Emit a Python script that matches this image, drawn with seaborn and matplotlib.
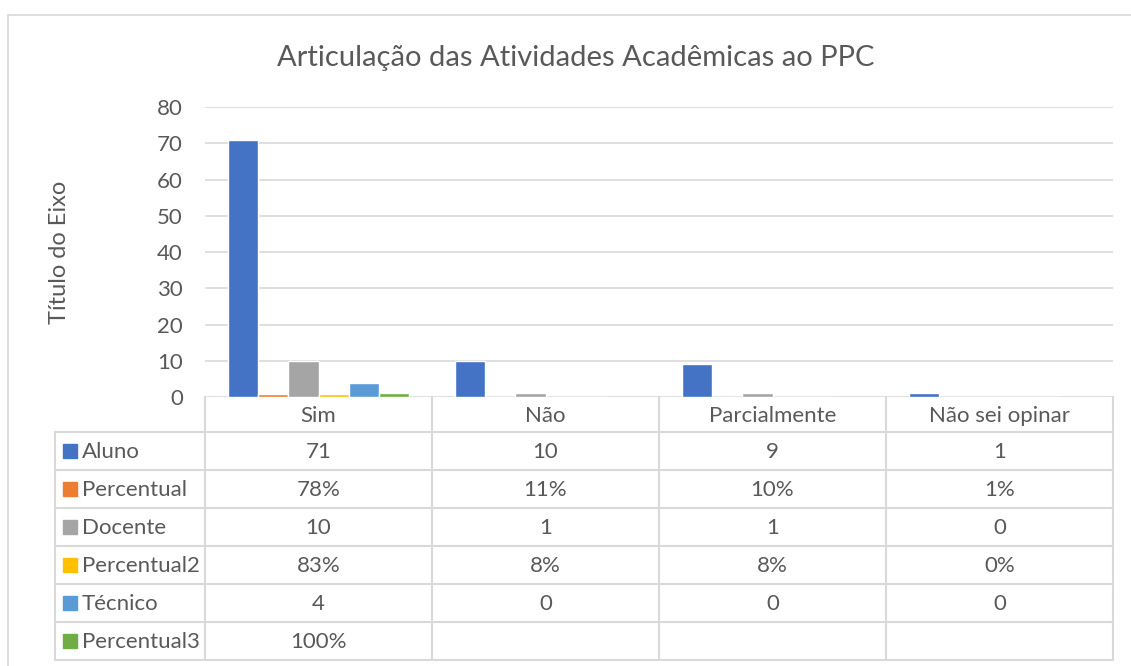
import matplotlib.pyplot as plt
import pandas as pd
import seaborn as sns

categorias = ['Sim', 'Não', 'Parcialmente', 'Não sei opinar']
series = ['Aluno', 'Percentual', 'Docente', 'Percentual2', 'Técnico', 'Percentual3']
aluno = [71, 10, 9, 1]
percentual = [0.78, 0.11, 0.10, 0.01]
docente = [10, 1, 1, 0]
percentual2 = [0.83, 0.08, 0.08, 0.00]
tecnico = [4, 0, 0, 0]
percentual3 = [1.00, None, None, None]
eh_percentual = [False, True, False, True, False, True]
cores = ['#4472C4', '#ED7D31', '#A5A5A5', '#FFC000', '#5B9BD5', '#70AD47']
valores = [aluno, percentual, docente, percentual2, tecnico, percentual3]

TXT = '#595959'
GRID = '#D9D9D9'
W, H = 1131, 666
FS = 16

linhas = []
for nome, vals in zip(series, valores):
    for cat, v in zip(categorias, vals):
        linhas.append({'categoria': cat, 'serie': nome, 'valor': v})
df = pd.DataFrame(linhas)

sns.set_style('white')
plt.rcParams['font.family'] = ['Lato', 'DejaVu Sans']

fig = plt.figure(figsize=(W / 100, H / 100), dpi=100)
ax = fig.add_axes([205 / W, 1 - 397 / H, (1113 - 205) / W, (397 - 107) / H])
sns.barplot(data=df, x='categoria', y='valor', hue='serie', order=categorias,
            hue_order=series, palette=cores, width=0.8, saturation=1,
            legend=False, ax=ax, zorder=3)
ax.set_ylim(0, 80)
ax.set_yticks(range(0, 81, 10))
ax.set_xlim(-0.5, 3.5)
ax.yaxis.grid(True, color=GRID, linewidth=1.2, zorder=0)
for s in ax.spines.values():
    s.set_visible(False)
ax.tick_params(axis='y', length=0, pad=16, labelsize=FS, labelcolor=TXT)
ax.set_xticks([])
ax.set_xlabel('')
ax.set_ylabel('')
fig.text(60 / W, 1 - 252 / H, 'Título do Eixo', rotation=90, ha='center',
         va='center', fontsize=17, color=TXT)
fig.text(576 / W, 1 - 58 / H, 'Articulação das Atividades Acadêmicas ao PPC',
         ha='center', va='center', fontsize=21, color=TXT)

# tabela de dados (coordenadas em pixels)
t = fig.add_axes([0, 0, 1, 1], zorder=5)
t.set_xlim(0, W)
t.set_ylim(H, 0)
t.axis('off')
t.patch.set_alpha(0)
t.plot([8, W], [15, 15], color=GRID, lw=1.2)
t.plot([8, 8], [15, H], color=GRID, lw=1.2)

col_x = [205, 432, 659, 886, 1113]
row_y = [397, 432, 470, 508, 546, 584, 622, 660]
lw = 1.5
for x in col_x:
    t.plot([x, x], [row_y[0], row_y[-1]], color=GRID, lw=lw)
t.plot([55, 55], [row_y[1], row_y[-1]], color=GRID, lw=lw)
for y in row_y[1:]:
    t.plot([55, 1113], [y, y], color=GRID, lw=lw)

for j, cat in enumerate(categorias):
    cx = (col_x[j] + col_x[j + 1]) / 2
    t.text(cx, (row_y[0] + row_y[1]) / 2 + 2, cat, ha='center', va='center',
           fontsize=FS, color=TXT)

for i, (nome, vals) in enumerate(zip(series, valores)):
    cy = (row_y[i + 1] + row_y[i + 2]) / 2
    t.add_patch(plt.Rectangle((63, cy - 7), 14, 14, color=cores[i]))
    t.text(82, cy + 1.5, nome, ha='left', va='center', fontsize=FS, color=TXT)
    for j, v in enumerate(vals):
        if v is None:
            continue
        s = f'{v:.0%}' if eh_percentual[i] else f'{v:d}'
        cx = (col_x[j] + col_x[j + 1]) / 2
        t.text(cx, cy + 1.5, s, ha='center', va='center', fontsize=FS,
               color=TXT)

fig.savefig('out.png', dpi=100, facecolor='white')
